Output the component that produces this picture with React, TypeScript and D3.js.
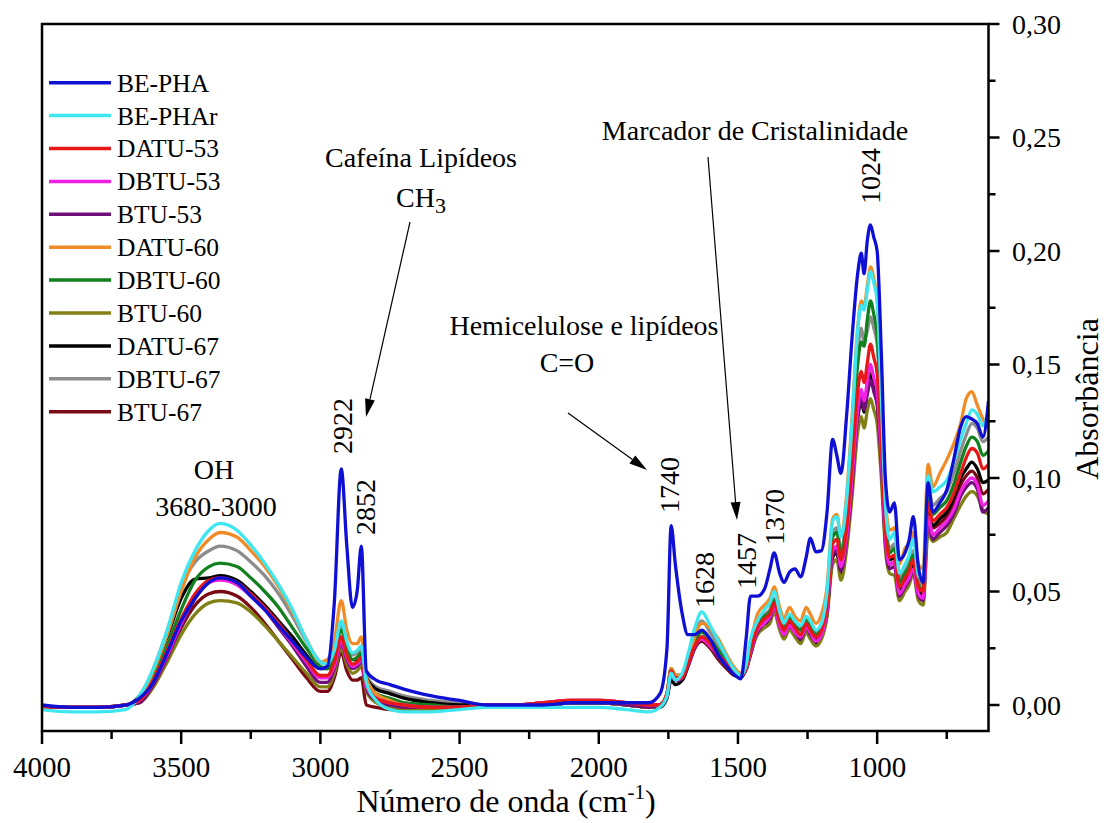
import React from "react";
import * as d3 from "d3";

const wavenumbers = [
  4000, 3900, 3800, 3700, 3650, 3600, 3550, 3500, 3450, 3400,
  3360, 3300, 3250, 3200, 3150, 3100, 3050, 3000, 2975, 2950,
  2925, 2905, 2885, 2868, 2853, 2835, 2800, 2750, 2700, 2600,
  2500, 2400, 2300, 2200, 2100, 2000, 1900, 1820, 1780, 1755,
  1740, 1725, 1700, 1680, 1655, 1630, 1600, 1570, 1540, 1510,
  1490, 1470, 1455, 1430, 1405, 1385, 1370, 1350, 1335, 1315,
  1295, 1275, 1255, 1240, 1220, 1200, 1180, 1160, 1145, 1130,
  1110, 1090, 1070, 1057, 1047, 1035, 1024, 1012, 1000, 985,
  970, 955, 938, 920, 900, 885, 870, 852, 835, 817,
  800, 775, 750, 725, 700, 680, 660, 640, 620, 600,
];

const bePHA = [
  0.000, -0.001, -0.001, 0.000, 0.003, 0.010, 0.023, 0.037, 0.047, 0.054,
  0.056, 0.054, 0.048, 0.042, 0.035, 0.028, 0.021, 0.016, 0.017, 0.045,
  0.104, 0.070, 0.043, 0.050, 0.070, 0.015, 0.011, 0.009, 0.007, 0.004,
  0.002, 0.000, 0.000, 0.000, 0.001, 0.001, 0.001, 0.001, 0.005, 0.025,
  0.079, 0.062, 0.040, 0.031, 0.031, 0.033, 0.029, 0.022, 0.017, 0.013,
  0.0115, 0.030, 0.048, 0.048, 0.051, 0.060, 0.067, 0.058, 0.054, 0.0585,
  0.060, 0.0565, 0.065, 0.0735, 0.0675, 0.068, 0.085, 0.117, 0.110, 0.102,
  0.127, 0.162, 0.190, 0.199, 0.190, 0.205, 0.2115, 0.206, 0.200, 0.155,
  0.099, 0.085, 0.089, 0.064, 0.067, 0.0727, 0.083, 0.061, 0.054, 0.098,
  0.085, 0.089, 0.0947, 0.108, 0.1225, 0.127, 0.126, 0.124, 0.118, 0.134,
];

const bePHAr = [
  -0.002, -0.003, -0.003, -0.002, 0.004, 0.016, 0.033, 0.054, 0.068, 0.077,
  0.080, 0.077, 0.0705, 0.0625, 0.053, 0.042, 0.0286, 0.019, 0.018, 0.024,
  0.037, 0.028, 0.023, 0.024, 0.026, 0.010, 0.002, -0.002, -0.003, -0.003,
  -0.002, -0.001, -0.001, -0.001, -0.001, -0.001, -0.002, -0.003, -0.001, 0.004,
  0.014, 0.011, 0.014, 0.022, 0.034, 0.041, 0.035, 0.028, 0.021, 0.015,
  0.013, 0.018, 0.029, 0.037, 0.042, 0.045, 0.050, 0.041, 0.036, 0.040,
  0.037, 0.035, 0.039, 0.037, 0.033, 0.036, 0.050, 0.081, 0.083, 0.074,
  0.090, 0.125, 0.165, 0.176, 0.174, 0.183, 0.191, 0.186, 0.178, 0.135,
  0.088, 0.073, 0.076, 0.058, 0.062, 0.066, 0.073, 0.057, 0.055, 0.101,
  0.094, 0.096, 0.099, 0.107, 0.117, 0.124, 0.130, 0.128, 0.123, 0.130,
];

const datu53 = [
  -0.001, -0.001, -0.001, 0.000, 0.002, 0.011, 0.024, 0.038, 0.049, 0.055,
  0.056, 0.054, 0.049, 0.043, 0.036, 0.028, 0.020, 0.013, 0.013, 0.019,
  0.030, 0.022, 0.018, 0.019, 0.021, 0.009, 0.003, 0.001, 0.000, -0.001,
  -0.001, 0.000, 0.000, 0.001, 0.002, 0.002, 0.001, 0.000, 0.000, 0.005,
  0.015, 0.012, 0.012, 0.018, 0.026, 0.030, 0.027, 0.022, 0.018, 0.014,
  0.013, 0.016, 0.024, 0.034, 0.038, 0.040, 0.045, 0.037, 0.033, 0.037,
  0.034, 0.031, 0.036, 0.033, 0.030, 0.033, 0.044, 0.071, 0.073, 0.064,
  0.078, 0.106, 0.138, 0.147, 0.142, 0.151, 0.159, 0.153, 0.146, 0.116,
  0.077, 0.065, 0.066, 0.052, 0.056, 0.059, 0.064, 0.052, 0.050, 0.089,
  0.081, 0.084, 0.087, 0.093, 0.102, 0.109, 0.113, 0.111, 0.104, 0.106,
];

const dbtu53 = [
  -0.001, -0.001, -0.001, 0.000, 0.002, 0.010, 0.022, 0.036, 0.048, 0.054,
  0.055, 0.053, 0.048, 0.042, 0.035, 0.027, 0.019, 0.012, 0.012, 0.017,
  0.028, 0.021, 0.017, 0.018, 0.020, 0.008, 0.003, 0.001, 0.000, -0.001,
  -0.001, 0.000, 0.000, 0.001, 0.002, 0.002, 0.001, 0.000, 0.000, 0.004,
  0.014, 0.011, 0.012, 0.018, 0.026, 0.029, 0.026, 0.022, 0.018, 0.014,
  0.013, 0.016, 0.023, 0.033, 0.036, 0.039, 0.043, 0.035, 0.031, 0.035,
  0.032, 0.030, 0.034, 0.032, 0.028, 0.031, 0.042, 0.068, 0.070, 0.061,
  0.074, 0.100, 0.130, 0.139, 0.134, 0.143, 0.150, 0.144, 0.138, 0.110,
  0.073, 0.062, 0.063, 0.049, 0.053, 0.056, 0.060, 0.049, 0.047, 0.083,
  0.075, 0.078, 0.081, 0.086, 0.094, 0.098, 0.100, 0.097, 0.088, 0.090,
];

const btu53 = [
  -0.001, -0.001, -0.001, 0.000, 0.001, 0.009, 0.021, 0.035, 0.047, 0.054,
  0.056, 0.054, 0.048, 0.042, 0.034, 0.026, 0.017, 0.010, 0.010, 0.016,
  0.027, 0.020, 0.016, 0.017, 0.019, 0.007, 0.002, 0.000, -0.001, -0.001,
  -0.001, 0.000, 0.000, 0.000, 0.001, 0.001, 0.000, -0.001, 0.000, 0.004,
  0.014, 0.011, 0.012, 0.017, 0.025, 0.029, 0.026, 0.021, 0.017, 0.014,
  0.013, 0.016, 0.023, 0.032, 0.036, 0.038, 0.043, 0.035, 0.031, 0.035,
  0.032, 0.029, 0.034, 0.031, 0.028, 0.031, 0.041, 0.066, 0.068, 0.059,
  0.072, 0.097, 0.127, 0.135, 0.130, 0.137, 0.143, 0.138, 0.132, 0.106,
  0.071, 0.060, 0.061, 0.048, 0.052, 0.055, 0.059, 0.048, 0.046, 0.081,
  0.073, 0.076, 0.079, 0.084, 0.092, 0.096, 0.098, 0.095, 0.085, 0.087,
];

const datu60 = [
  -0.001, -0.001, -0.001, 0.000, 0.003, 0.015, 0.031, 0.050, 0.065, 0.073,
  0.076, 0.074, 0.068, 0.061, 0.052, 0.041, 0.029, 0.019, 0.020, 0.028,
  0.046, 0.033, 0.027, 0.027, 0.030, 0.012, 0.005, 0.002, 0.000, -0.001,
  -0.001, 0.000, 0.000, 0.000, 0.001, 0.001, 0.000, -0.001, 0.000, 0.005,
  0.016, 0.013, 0.013, 0.020, 0.030, 0.036, 0.034, 0.029, 0.022, 0.016,
  0.014, 0.018, 0.027, 0.040, 0.044, 0.047, 0.052, 0.043, 0.038, 0.043,
  0.039, 0.037, 0.043, 0.040, 0.036, 0.040, 0.052, 0.082, 0.084, 0.075,
  0.092, 0.127, 0.166, 0.178, 0.176, 0.185, 0.193, 0.188, 0.179, 0.140,
  0.090, 0.077, 0.078, 0.062, 0.069, 0.071, 0.076, 0.062, 0.060, 0.106,
  0.096, 0.102, 0.108, 0.115, 0.124, 0.135, 0.138, 0.132, 0.126, 0.122,
];

const dbtu60 = [
  -0.001, -0.001, -0.001, 0.000, 0.002, 0.012, 0.026, 0.042, 0.055, 0.061,
  0.0625, 0.061, 0.056, 0.050, 0.043, 0.034, 0.025, 0.017, 0.016, 0.021,
  0.033, 0.025, 0.020, 0.021, 0.023, 0.011, 0.005, 0.003, 0.001, 0.000,
  -0.001, 0.000, 0.000, 0.000, 0.001, 0.001, 0.000, -0.001, 0.000, 0.005,
  0.016, 0.013, 0.013, 0.019, 0.028, 0.032, 0.029, 0.024, 0.019, 0.014,
  0.013, 0.016, 0.025, 0.035, 0.039, 0.041, 0.046, 0.038, 0.034, 0.039,
  0.035, 0.033, 0.038, 0.035, 0.031, 0.034, 0.046, 0.074, 0.076, 0.067,
  0.082, 0.114, 0.150, 0.160, 0.158, 0.170, 0.178, 0.172, 0.163, 0.127,
  0.081, 0.067, 0.069, 0.054, 0.058, 0.061, 0.066, 0.053, 0.051, 0.092,
  0.084, 0.087, 0.090, 0.097, 0.107, 0.114, 0.118, 0.116, 0.110, 0.112,
];

const btu60 = [
  -0.001, -0.001, -0.001, 0.000, 0.001, 0.008, 0.019, 0.031, 0.040, 0.045,
  0.046, 0.045, 0.041, 0.035, 0.028, 0.021, 0.014, 0.008, 0.008, 0.014,
  0.025, 0.018, 0.014, 0.015, 0.017, 0.006, 0.001, -0.001, -0.002, -0.002,
  -0.001, 0.000, 0.000, 0.000, 0.001, 0.001, 0.000, -0.001, 0.000, 0.005,
  0.016, 0.013, 0.013, 0.018, 0.026, 0.029, 0.026, 0.021, 0.017, 0.014,
  0.013, 0.016, 0.023, 0.031, 0.034, 0.036, 0.041, 0.033, 0.029, 0.033,
  0.030, 0.027, 0.032, 0.029, 0.026, 0.029, 0.039, 0.062, 0.064, 0.055,
  0.068, 0.092, 0.120, 0.127, 0.122, 0.130, 0.135, 0.130, 0.124, 0.100,
  0.068, 0.058, 0.057, 0.046, 0.050, 0.053, 0.058, 0.046, 0.044, 0.076,
  0.072, 0.074, 0.076, 0.082, 0.088, 0.092, 0.094, 0.092, 0.086, 0.084,
];

const datu67 = [
  -0.001, -0.001, -0.001, 0.000, 0.004, 0.015, 0.030, 0.047, 0.0555, 0.056,
  0.057, 0.055, 0.050, 0.044, 0.037, 0.030, 0.022, 0.016, 0.016, 0.020,
  0.029, 0.023, 0.020, 0.020, 0.022, 0.012, 0.007, 0.005, 0.003, 0.001,
  0.000, 0.000, 0.000, 0.000, 0.001, 0.001, 0.000, -0.001, -0.001, 0.003,
  0.011, 0.009, 0.011, 0.017, 0.026, 0.030, 0.027, 0.022, 0.017, 0.013,
  0.012, 0.016, 0.022, 0.032, 0.035, 0.038, 0.042, 0.034, 0.030, 0.034,
  0.031, 0.028, 0.033, 0.030, 0.027, 0.030, 0.040, 0.065, 0.067, 0.058,
  0.071, 0.096, 0.126, 0.134, 0.129, 0.139, 0.145, 0.140, 0.134, 0.108,
  0.074, 0.064, 0.065, 0.051, 0.055, 0.058, 0.062, 0.051, 0.049, 0.086,
  0.079, 0.082, 0.085, 0.091, 0.100, 0.104, 0.107, 0.104, 0.098, 0.099,
];

const dbtu67 = [
  -0.001, -0.001, -0.001, 0.000, 0.003, 0.016, 0.033, 0.052, 0.063, 0.068,
  0.070, 0.068, 0.063, 0.057, 0.049, 0.039, 0.028, 0.019, 0.018, 0.023,
  0.035, 0.027, 0.022, 0.023, 0.025, 0.013, 0.008, 0.006, 0.004, 0.002,
  0.001, 0.000, 0.000, 0.000, 0.001, 0.001, 0.000, -0.001, 0.000, 0.005,
  0.015, 0.012, 0.013, 0.020, 0.031, 0.037, 0.032, 0.026, 0.020, 0.015,
  0.013, 0.017, 0.026, 0.036, 0.040, 0.042, 0.047, 0.039, 0.035, 0.039,
  0.036, 0.033, 0.038, 0.035, 0.032, 0.036, 0.047, 0.076, 0.078, 0.069,
  0.084, 0.117, 0.155, 0.166, 0.160, 0.165, 0.171, 0.166, 0.159, 0.125,
  0.082, 0.069, 0.071, 0.056, 0.060, 0.063, 0.068, 0.055, 0.053, 0.096,
  0.088, 0.091, 0.094, 0.102, 0.112, 0.119, 0.124, 0.122, 0.116, 0.118,
];

const btu67 = [
  -0.001, -0.001, -0.001, 0.000, 0.001, 0.008, 0.020, 0.034, 0.044, 0.049,
  0.050, 0.048, 0.043, 0.036, 0.028, 0.020, 0.012, 0.006, 0.006, 0.012,
  0.023, 0.015, 0.011, 0.011, 0.012, 0.000, -0.001, -0.002, -0.002, -0.002,
  -0.001, 0.000, 0.000, 0.001, 0.002, 0.002, 0.001, 0.000, 0.000, 0.004,
  0.014, 0.011, 0.011, 0.017, 0.025, 0.028, 0.025, 0.020, 0.016, 0.013,
  0.013, 0.016, 0.023, 0.033, 0.037, 0.040, 0.044, 0.036, 0.032, 0.036,
  0.033, 0.030, 0.035, 0.032, 0.029, 0.032, 0.041, 0.066, 0.068, 0.059,
  0.072, 0.098, 0.128, 0.137, 0.132, 0.140, 0.146, 0.141, 0.135, 0.109,
  0.073, 0.062, 0.063, 0.050, 0.054, 0.057, 0.061, 0.050, 0.048, 0.085,
  0.078, 0.080, 0.083, 0.088, 0.097, 0.101, 0.103, 0.100, 0.093, 0.095,
];

const seriesNames = [
  "BE-PHA", "BE-PHAr", "DATU-53", "DBTU-53", "BTU-53", "DATU-60",
  "DBTU-60", "BTU-60", "DATU-67", "DBTU-67", "BTU-67",
];
const seriesValues = [
  bePHA, bePHAr, datu53, dbtu53, btu53, datu60, dbtu60, btu60, datu67, dbtu67, btu67,
];
const seriesColors = [
  "#1010d4", "#3ee6f0", "#e81818", "#f020e4", "#6e1078", "#f08c28",
  "#12801e", "#808014", "#000000", "#8c8c8c", "#7a0a14",
];

const xMajorTicks = [4000, 3500, 3000, 2500, 2000, 1500, 1000];
const xMinorTicks = [3750, 3250, 2750, 2250, 1750, 1250, 750];
const yMajorTicks = [0, 0.05, 0.1, 0.15, 0.2, 0.25, 0.3];
const yMinorTicks = [0.025, 0.075, 0.125, 0.175, 0.225, 0.275];

const FONT = "'Liberation Serif', 'Times New Roman', serif";

const W = 1107;
const H = 823;
const M = { left: 42, right: 988.5, top: 24, bottom: 731 };

function Arrow({ x1, y1, x2, y2 }: { x1: number; y1: number; x2: number; y2: number }) {
  const dx = x2 - x1;
  const dy = y2 - y1;
  const len = Math.sqrt(dx * dx + dy * dy);
  const ux = dx / len;
  const uy = dy / len;
  const hl = 18;
  const hw = 5;
  const bx = x2 - ux * hl;
  const by = y2 - uy * hl;
  const pts = [
    [x2, y2],
    [bx - uy * hw, by + ux * hw],
    [bx + uy * hw, by - ux * hw],
  ];
  return (
    <g>
      <line x1={x1} y1={y1} x2={bx} y2={by} stroke="#000" strokeWidth={1.2} />
      <polygon points={pts.map((p) => p.join(",")).join(" ")} fill="#000" />
    </g>
  );
}

export default function App() {
  const x = d3.scaleLinear().domain([4000, 600]).range([M.left, M.right]);
  const y = d3.scaleLinear().domain([-0.01145, 0.3]).range([M.bottom, M.top]);

  const line = d3
    .line<number>()
    .x((_, i) => x(wavenumbers[i]))
    .y((d) => y(d))
    .curve(d3.curveMonotoneX);

  const fmt = (v: number) => d3.format(".2f")(v).replace(".", ",");
  const drawOrder = seriesValues.map((_, i) => i).reverse();

  const peakLabels = [
    { t: "2922", bx: 352, cy: 426 },
    { t: "2852", bx: 375, cy: 507 },
    { t: "1740", bx: 679, cy: 485 },
    { t: "1628", bx: 714, cy: 580 },
    { t: "1457", bx: 756, cy: 561 },
    { t: "1370", bx: 784, cy: 517 },
    { t: "1024", bx: 880, cy: 176 },
  ];

  return (
    <svg
      width={W}
      height={H}
      viewBox={`0 0 ${W} ${H}`}
      style={{ position: "absolute", left: 0, top: 0, background: "#fff" }}
      fontFamily={FONT}
    >
      <rect x={0} y={0} width={W} height={H} fill="#fff" />
      <defs>
        <clipPath id="plotClip">
          <rect x={M.left} y={M.top} width={M.right - M.left} height={M.bottom - M.top} />
        </clipPath>
      </defs>

      <g clipPath="url(#plotClip)">
        {drawOrder.map((i) => (
          <path
            key={seriesNames[i]}
            d={line(seriesValues[i]) || ""}
            fill="none"
            stroke={seriesColors[i]}
            strokeWidth={3.3}
            strokeLinejoin="round"
          />
        ))}
      </g>

      {/* frame */}
      <rect
        x={M.left}
        y={M.top}
        width={M.right - M.left}
        height={M.bottom - M.top}
        fill="none"
        stroke="#000"
        strokeWidth={2.5}
      />

      {/* bottom axis */}
      {xMajorTicks.map((t) => (
        <g key={"xm" + t}>
          <line x1={x(t)} x2={x(t)} y1={M.bottom} y2={M.bottom + 13} stroke="#000" strokeWidth={2.5} />
          <text x={x(t)} y={777} textAnchor="middle" fontSize={29}>
            {t}
          </text>
        </g>
      ))}
      {xMinorTicks.map((t) => (
        <line key={"xn" + t} x1={x(t)} x2={x(t)} y1={M.bottom} y2={M.bottom + 8} stroke="#000" strokeWidth={2.5} />
      ))}

      {/* right axis */}
      {yMajorTicks.map((t) => (
        <g key={"ym" + t}>
          <line x1={M.right} x2={M.right + 11} y1={y(t)} y2={y(t)} stroke="#000" strokeWidth={2.5} />
          <text x={1012} y={y(t)} dy="0.35em" textAnchor="start" fontSize={28}>
            {fmt(t)}
          </text>
        </g>
      ))}
      {yMinorTicks.map((t) => (
        <line key={"yn" + t} x1={M.right} x2={M.right + 7} y1={y(t)} y2={y(t)} stroke="#000" strokeWidth={2.5} />
      ))}

      {/* axis titles */}
      <text x={506} y={812} textAnchor="middle" fontSize={32}>
        Número de onda (cm
        <tspan fontSize={21} dy={-13}>-1</tspan>
        <tspan dy={13}>)</tspan>
      </text>
      <text transform="translate(1098,399) rotate(-90)" textAnchor="middle" fontSize={32}>
        Absorbância
      </text>

      {/* legend */}
      {seriesNames.map((n, i) => {
        const ly = 82.7 + i * 32.9;
        return (
          <g key={"lg" + n}>
            <line x1={49} x2={111} y1={ly} y2={ly} stroke={seriesColors[i]} strokeWidth={3.5} />
            <text x={117} y={ly} dy="0.35em" fontSize={25.5}>
              {n}
            </text>
          </g>
        );
      })}

      {/* annotations */}
      <text x={214} y={479} textAnchor="middle" fontSize={28}>OH</text>
      <text x={216} y={516} textAnchor="middle" fontSize={28}>3680-3000</text>

      <text x={421} y={167} textAnchor="middle" fontSize={28}>Cafeína Lipídeos</text>
      <text x={421} y={207} textAnchor="middle" fontSize={28}>
        CH<tspan fontSize={22} dy={6}>3</tspan>
      </text>
      <Arrow x1={410} y1={222} x2={366} y2={417} />

      <text x={584} y={335} textAnchor="middle" fontSize={28}>Hemicelulose e lipídeos</text>
      <text x={567} y={372} textAnchor="middle" fontSize={28}>C=O</text>
      <Arrow x1={568} y1={413} x2={647} y2={470} />

      <text x={755} y={140} textAnchor="middle" fontSize={28}>Marcador de Cristalinidade</text>
      <Arrow x1={708} y1={157} x2={737} y2={520} />

      {peakLabels.map((p) => (
        <text
          key={p.t}
          transform={`translate(${p.bx},${p.cy}) rotate(-90)`}
          textAnchor="middle"
          fontSize={28}
        >
          {p.t}
        </text>
      ))}
    </svg>
  );
}
